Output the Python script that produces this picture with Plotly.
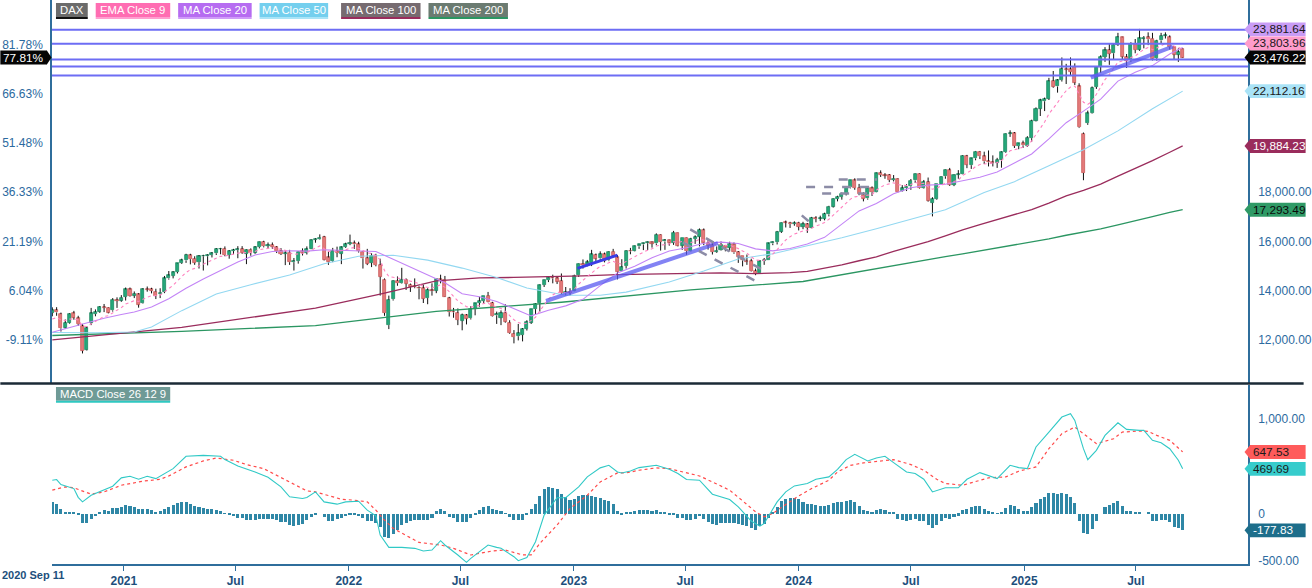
import pandas as pd
import plotly.graph_objects as go

# ---------------- DATA (weekly DAX, weeks starting Monday) ----------------
start_week = "2020-09-07"

O = [13100,13210,13050,12500,12700,13080,12880,12560,11600,12700,13050,13150,13320,13300,13200,13620,13600,
     13750,14050,13800,13850,13480,14060,14060,13960,13850,13950,14500,14600,14760,15130,15230,15440,15300,15160,15400,15400,15450,15520,15700,15700,15450,15610,15650,15690,15500,15670,15550,15770,15980,15820,15860,15770,15620,15500,15550,15160,15200,15600,15540,15700,16070,16100,16180,15350,15200,15600,15500,15780,
     15900,15930,15890,15580,15320,15130,15400,15050,14450,12600,13650,14400,14300,14450,14240,14170,14120,14100,13700,14000,14000,14460,14450,13700,13150,13100,12780,13000,12880,13250,13500,13580,13800,13500,13000,12900,13100,12700,12250,12150,12200,12450,12700,13250,13500,14230,14430,14500,14500,14400,13890,13940,
     13990,14620,15090,15050,15140,15450,15310,15480,15230,15590,15350,14800,15000,15630,15620,15800,15880,15930,15960,15920,16280,16000,16050,15950,16350,15830,16150,15600,16100,16200,16460,15950,15850,15580,15640,15830,15750,15880,15570,15400,15200,15200,14800,14700,15200,15250,15920,15970,16400,16760,16760,16720,
     16760,16600,16700,16560,16950,16930,16930,17100,17420,17730,17810,17950,18220,18480,18180,17900,17750,18160,18010,18780,18700,18700,18500,18550,18050,18160,18240,18480,18750,18170,18420,17570,17730,18340,18650,18900,18300,18700,18730,19470,19100,19380,19650,19460,19260,19230,19210,19330,19630,20390,20400,19880,19990,
     19900,20200,20910,21400,21700,21800,22520,22300,22560,23000,23000,23100,22300,18786,20809,21220,22280,23100,23500,23780,23650,24000,24300,23500,23360,24040,23800,24250,24300,24250,23450,24170,24370,24300,23900,23600,23820]
H = [13325,13330,13110,12830,13080,13180,12980,12650,12560,13300,13240,13370,13460,13320,13700,13730,13820,
     14130,14130,13970,13900,14100,14170,14120,14080,14100,14600,14800,14790,15120,15300,15500,15500,15400,15450,15460,15480,15570,15730,15740,15800,15650,15700,15810,15810,15690,15720,15810,15990,16030,15960,15960,15810,15730,15650,15660,15330,15600,15720,15800,16080,16130,16290,16230,15600,15740,15790,15800,15950,
     16280,16040,15990,15600,15700,15520,15500,15300,14500,13800,14430,14580,14930,14500,14290,14500,14180,14250,14100,14300,14480,14650,14600,13750,13300,13280,13070,13050,13370,13500,13750,13800,13950,13550,13150,13200,13450,12800,12400,12650,12480,12800,13250,13500,14250,14440,14560,14650,14580,14700,14150,14100,
     14650,15100,15270,15250,15660,15510,15600,15550,15600,15700,15450,15280,15650,15740,15830,15900,15950,16000,16000,16330,16300,16100,16070,16430,16360,16150,16160,16150,16250,16530,16530,16060,15950,15800,16000,15860,15990,15960,15610,15400,15470,15300,14900,15240,15330,15950,16000,16430,16770,16850,16800,16820,
     16800,16800,16750,17000,17030,17050,17170,17450,17750,17860,17990,18230,18500,18570,18340,18000,18200,18240,18800,18890,18780,18740,18700,18570,18290,18330,18540,18760,18770,18500,18600,17800,18330,18650,18920,18990,18720,18900,19500,19520,19400,19680,19680,19650,19700,19500,19400,19660,20400,20520,20450,20000,20100,
     20280,20950,21450,21800,21850,22650,22930,22600,23480,23220,23480,23240,22430,20430,21320,22300,23120,23570,23900,24030,24040,24480,24320,23620,24100,24230,24640,24350,24500,24480,24200,24480,24500,24380,23950,23850,23840]
L = [12960,12980,12340,12450,12660,12820,12570,11450,11570,12600,12960,13100,13130,13080,13150,13300,13550,
     13600,13760,13700,13310,13460,13960,13890,13660,13700,13900,14450,14500,14700,15090,15130,15070,15050,14900,14820,15030,15350,15450,15480,15400,15300,15480,15320,15500,15080,15420,15500,15720,15760,15730,15700,15530,15450,15040,15050,14820,15100,15430,15470,15690,15950,16080,15230,15050,15160,15360,15080,15740,
     15850,15700,15550,14900,15040,14960,14990,13800,12980,12440,13600,14200,14280,14030,13950,14100,13650,13500,13450,13800,13900,14300,13750,12950,12900,12600,12390,12630,12830,13000,13350,13500,13530,12950,12650,12600,12700,12250,11860,11980,11940,12380,12650,13050,13150,14150,14350,14300,14270,13850,13790,13800,
     13980,14560,14900,14990,15000,15200,15250,15150,15200,15380,14460,14800,14900,15480,15600,15700,15650,15650,15750,15850,15630,15660,15830,15860,15800,15660,15460,15580,15900,15800,15850,15670,15470,15540,15620,15600,15600,15500,15130,14990,15050,14780,14630,14690,15050,15250,15850,15880,16350,16570,16550,16640,
     16450,16500,16350,16540,16780,16830,16860,17020,17380,17630,17700,17870,18160,18100,17880,17630,17700,17850,18000,18620,18550,18410,18440,17990,18030,18050,18100,18380,18150,18150,17620,17020,17700,18300,18550,18260,18250,18550,18720,18980,18950,19300,19350,19150,19050,19050,18990,19000,19600,20250,19800,19750,19800,
     19850,20050,20880,21100,21300,21750,22250,22050,22500,22400,22760,22360,20610,18490,20740,21200,22200,22850,23300,23180,23400,23950,23400,23050,23300,23650,23750,23850,23980,23360,23350,24050,24250,23800,23400,23300,23460]
C = [13203,13116,12469,12689,13051,12909,12646,11556,12480,13077,13137,13335,13299,13114,13631,13587,13719,
     14049,13788,13874,13433,14057,14050,13993,13786,13920,14502,14621,14749,15107,15234,15460,15280,15136,15400,15417,15437,15520,15693,15693,15448,15607,15650,15688,15540,15669,15544,15761,15977,15808,15852,15781,15610,15490,15532,15156,15206,15587,15543,15688,16054,16094,16160,15257,15170,15623,15532,15756,15885,
     15948,15883,15603,15318,15100,15425,15042,14567,13095,13628,14413,14306,14446,14284,14163,14142,14098,13675,14027,13982,14462,14460,13762,13127,13118,12813,13015,12864,13254,13484,13574,13795,13544,12971,13050,13088,12741,12285,12114,12273,12438,12731,13243,13460,14224,14432,14541,14529,14371,13894,13940,13924,
     14610,15087,15033,15150,15476,15308,15482,15210,15578,15428,14768,14957,15629,15598,15808,15882,15922,15961,15914,16275,15984,16051,15950,16358,15830,16148,15603,16105,16177,16469,15952,15832,15574,15632,15840,15740,15894,15557,15386,15230,15187,14798,14687,15189,15234,15919,15967,16398,16759,16751,16706,16752,
     16594,16705,16555,16961,16918,16927,17117,17419,17735,17815,17937,18206,18492,18175,17930,17737,18161,18002,18773,18704,18694,18498,18557,18002,18164,18235,18476,18748,18172,18418,17661,17723,18322,18633,18907,18302,18700,18720,19474,19121,19374,19657,19464,19255,19216,19211,19323,19626,20385,20406,19885,19985,19906,
     20215,20903,21394,21732,21787,22514,22288,22551,23009,22987,22892,22462,20641,20374,21206,22242,23087,23499,23767,23630,23997,24304,23516,23350,24033,23787,24255,24290,24218,23426,24163,24359,24363,23902,23597,23698,23476]

ema9 = [12850,12903,12816,12791,12843,12856,12814,12562,12546,12652,12749,12866,12953,12985,13114,13209,13311,13459,13525,13595,
        13563,13662,13740,13791,13790,13816,13953,14087,14219,14397,14564,14743,14850,14907,15006,15088,15158,15230,15323,15397,
        15407,15447,15488,15528,15530,15558,15555,15596,15672,15699,15730,15740,15714,15669,15642,15545,15477,15499,15508,15544,
        15646,15736,15821,15708,15600,15605,15590,15623,15675,15730,15761,15729,15647,15538,15515,15420,15249,14818,14580,14547,
        14499,14488,14447,14390,14340,14292,14169,14141,14109,14180,14236,14141,13938,13774,13582,13469,13348,13329,13360,13403,
        13481,13494,13389,13321,13274,13167,12991,12816,12707,12653,12669,12784,12919,13180,13430,13652,13827,13936,13928,13930,
        13929,14065,14269,14422,14568,14750,14862,14986,15031,15140,15198,15112,15081,15191,15272,15379,15480,15568,15647,15700,
        15815,15849,15889,15901,15992,15960,15998,15919,15956,16000,16094,16066,16019,15930,15870,15864,15839,15850,15791,15710,
        15614,15529,15383,15244,15233,15233,15370,15489,15671,15889,16061,16190,16302,16360,16429,16454,16555,16628,16688,16774,
        16903,17069,17218,17362,17531,17723,17813,17836,17816,17885,17908,18081,18206,18304,18343,18386,18309,18280,18271,18312,
        18399,18354,18367,18226,18125,18164,18258,18388,18371,18437,18494,18690,18776,18896,19048,19131,19156,19168,19177,19206,
        19290,19509,19688,19727,19779,19804,19886,20089,20350,20626,20858,21189,21409,21637,21911,22126,22279,22316,21981,21660,
        21569,21704,21981,22285,22581,22791,23032,23286,23332,23336,23475,23537,23681,23803,23886,23794,23868,23966,24045,24016,
        23932,23885,23804]

ma20_idx = [0, 4, 8, 12, 16] + list(range(19, 260, 4)) + [262]
ma20_val = [12310,12500,12700,12880,13030,
            13136,13339,13673,14099,14479,14824,15167,15452,15595,15623,15607,15665,15644,15639,15594,15278,14959,14652,14320,13879,
            13753,13561,13275,12976,13205,13383,13648,14207,14722,14989,15336,15617,15743,15929,15973,15918,15700,15618,15714,15900,
            16168,16718,17243,17546,17938,18186,18290,18329,18456,18614,18820,19185,19556,20168,20829,21297,21784,22518,22881,23149,
            23620,23882]

ma50_idx = [0,10,19,23,30,38,46,55,63,71,79,87,95,103,110,119,127,133,143,151,159,167,175,183,191,199,207,216,223,231,239,247,255,262]
ma50_val = [12300,12290,12324,12527,13190,13865,14242,14638,15097,15402,15439,15244,14919,14534,14112,13816,13817,13943,14353,14799,
            15289,15503,15825,16154,16517,16899,17292,17989,18432,19074,19729,20496,21398,22112]

ma100_idx = [0,30,61,76,89,99,107,115,123,131,139,147,155,163,171,175,179,183,187,191,195,199,203,207,211,215,219,223,227,231,235,239,243,247,251,255,259,262]
ma100_val = [12000,12510,13290,13860,14400,14520,14539,14556,14600,14650,14671,14704,14728,14697,14732,14789,14912,15049,15217,15377,
             15601,15798,15995,16228,16473,16683,16885,17102,17298,17562,17851,18078,18335,18653,18953,19286,19628,19884]

ma200_idx = [0,30,61,89,118,148,174,199,203,207,211,215,219,223,227,231,235,239,243,247,251,255,259,262]
ma200_val = [12180,12350,12580,13160,13530,14030,14374,15159,15266,15384,15499,15619,15727,15851,15972,16106,16254,16375,16513,16679,
             16835,17007,17181,17293]

# MACD (Close 26 12 9)
macd_idx = [0,1,2,3,5,6,7,9,12,14,16,18,20,22,24,26,28,31,35,39,40,43,47,50,53,55,58,59,61,63,66,68,71,73,75,76,78,81,84,86,88,90,91,94,96,97,
            101,103,104,107,108,110,112,114,117,119,122,124,127,129,131,132,134,136,140,143,145,147,150,153,157,159,162,164,165,168,170,172,175,177,
            180,182,184,186,187,189,191,193,195,198,200,202,204,207,210,212,215,217,219,222,224,226,228,231,234,236,237,239,240,242,244,247,249,252,
            253,255,257,259,261,262]
macd_val = [350,357,305,292,262,170,122,192,245,287,375,392,360,392,367,420,472,602,612,602,567,500,437,381,280,175,157,168,227,122,98,122,129,35,-25,-227,
            -357,-357,-367,-395,-385,-287,-332,-437,-515,-472,-332,-357,-367,-455,-497,-465,-297,-17,165,165,280,385,480,507,437,427,448,483,507,465,420,
            357,350,203,147,70,-80,-133,-105,122,227,290,315,360,385,465,567,623,602,553,584,602,535,437,420,360,227,270,270,360,430,402,367,507,483,
            472,700,857,1015,1050,980,682,567,665,822,955,885,875,875,770,745,682,560,470]
sig_idx = [0,3,5,9,12,16,21,25,27,31,35,38,42,45,49,52,56,59,61,64,67,70,73,75,77,79,82,85,90,93,97,102,105,109,111,113,117,120,124,127,131,133,
           136,140,143,147,150,153,157,160,163,165,167,170,173,176,180,182,185,188,192,195,199,202,205,207,211,214,217,221,224,228,231,234,237,240,
           242,246,248,252,254,256,259,262]
sig_val = [245,280,270,203,227,297,340,360,395,490,553,584,560,515,472,402,315,238,227,192,150,140,122,35,-70,-157,-234,-305,-332,-367,-437,-395,
           -385,-437,-437,-315,-122,52,192,332,427,427,455,480,472,430,395,332,245,133,17,-35,0,94,185,262,350,437,507,532,550,567,515,455,360,315,
           297,332,375,385,445,490,682,840,910,805,735,787,857,868,865,822,770,648]
hist = [122,98,52,17,17,7,-10,-105,-105,-60,-25,17,38,28,60,60,73,87,80,66,45,49,49,35,17,28,45,66,87,108,122,122,101,80,73,63,52,45,35,28,
        3,-17,-31,-42,-49,-63,-73,-63,-56,-56,-56,-56,-63,-87,-94,-122,-136,-122,-112,-73,-38,-10,0,-35,-80,-77,-60,-45,-25,-10,-17,-31,-45,
        -80,-84,-98,-140,-252,-262,-220,-175,-122,-98,-80,-73,-70,-73,-63,-42,24,45,24,-35,-52,-94,-94,-94,-45,-17,35,70,80,45,35,24,-3,-38,
        -70,-70,-70,-17,52,101,185,262,280,273,262,210,175,140,157,185,192,192,185,175,164,140,130,105,
        28,-10,17,17,28,38,38,38,28,38,17,7,-17,-7,-42,-42,-73,-73,-60,-31,-60,-87,-108,-119,-105,-105,-98,-105,-115,-126,-136,-157,-178,-136,
        -115,-45,17,70,133,157,164,164,150,122,101,101,91,80,80,91,112,122,122,133,143,122,80,38,28,7,42,49,38,17,7,-56,-73,-84,-73,-56,-84,
        -84,-126,-157,-126,-84,-45,-56,-35,-21,42,52,66,80,80,49,28,10,-3,10,60,91,77,52,31,31,70,112,154,178,217,217,206,217,206,175,112,
        -77,-200,-220,-168,-77,0,70,91,112,133,80,28,28,7,17,0,7,-77,-77,-66,-66,-94,-140,-157,-178]

# horizontal levels, drawn trend / channel lines  (date, price) pairs
levels = [24608, 24040, 23392, 23108, 22743]
trend_thick = [(("2022-11-17", 13581), ("2023-08-23", 15932)), (("2025-04-19", 22662), ("2025-08-30", 23919))]
trend_short = [(("2023-01-07", 14907), ("2023-03-13", 15446))]
dashed = [(("2023-07-09", 16490), ("2023-11-11", 14740)), (("2023-06-27", 15960), ("2023-10-21", 14420)),
          (("2024-01-13", 18215), ("2024-05-02", 18215)), (("2024-03-06", 18515), ("2024-05-07", 18515)),
          (("2024-02-08", 17947), ("2024-05-02", 17947)), (("2024-01-06", 17060), ("2024-01-24", 16680))]

pct_base = 13202.84
last_vals = {"ma20": 23881.64, "ema9": 23803.96, "close": 23476.22, "ma50": 22112.16, "ma100": 19884.23, "ma200": 17293.49}
macd_last = {"signal": 647.53, "macd": 469.69, "hist": -177.83}

assert len(O) == len(H) == len(L) == len(C) == len(ema9) == len(hist) == 263
assert len(ma20_idx) == len(ma20_val) and len(ma50_idx) == len(ma50_val)
assert len(ma100_idx) == len(ma100_val) and len(ma200_idx) == len(ma200_val)
assert len(macd_idx) == len(macd_val) and len(sig_idx) == len(sig_val)

# ---------------- GEOMETRY / STYLE ----------------
W, Hh = 1312, 588
ML, MR, MT, MB = 52, 56, 0, 21
PW = W - ML - MR           # 1204
PH = Hh - MT - MB          # 567
MAIN_BOTTOM_PX = 385
MACD_TOP_PX = 387
Y_MAIN = [10250, 25815]
Y_MACD = [-532, 1353]
X_RANGE = ["2020-09-06 12:00", "2025-12-30"]
FONT = "Arial, Liberation Sans, sans-serif"
AXC = "#2f6e9c"
TICKC = "#2c6aa0"


def xp(px):
    return (px - ML) / PW


def yp(py):
    return (PH - py) / PH


def main_py(v):
    return (Y_MAIN[1] - v) / (Y_MAIN[1] - Y_MAIN[0]) * MAIN_BOTTOM_PX


def macd_py(v):
    return MACD_TOP_PX + (Y_MACD[1] - v) / (Y_MACD[1] - Y_MACD[0]) * (PH - MACD_TOP_PX)


dates = pd.date_range(start_week, periods=len(C), freq="7D")
n = len(C)
up = [True] + [C[i] >= C[i - 1] for i in range(1, n)]
GF, GL = "#25a87a", "#137f57"
RF, RL = "#e47a7a", "#c44d4d"

fig = go.Figure()

# wicks (split around bodies)
wx, wy = [], []
for d, o, hi, lo, c in zip(dates, O, H, L, C):
    top, bot = max(o, c), min(o, c)
    if hi > top:
        wx += [d, d, None]; wy += [top, hi, None]
    if lo < bot:
        wx += [d, d, None]; wy += [lo, bot, None]
fig.add_trace(go.Scatter(x=wx, y=wy, mode="lines", line=dict(color="#111111", width=1),
                         hoverinfo="skip", showlegend=False, xaxis="x", yaxis="y"))

# bodies
base, hgt = [], []
for o, c in zip(O, C):
    if abs(c - o) < 35:
        base.append((o + c) / 2 - 17.5); hgt.append(35)
    else:
        base.append(min(o, c)); hgt.append(abs(c - o))
fig.add_trace(go.Bar(x=dates, y=hgt, base=base, width=5 * 86400000,
                     marker=dict(color=[GF if u else RF for u in up],
                                 line=dict(color=[GL if u else RL for u in up], width=0.7)),
                     hoverinfo="skip", showlegend=False, xaxis="x", yaxis="y"))

# moving averages
def ma_line(idx, vals, color, width=1.0, dash=None):
    fig.add_trace(go.Scatter(x=[dates[i] for i in idx], y=vals, mode="lines",
                             line=dict(color=color, width=width, dash=dash),
                             hoverinfo="skip", showlegend=False, xaxis="x", yaxis="y"))

ma_line(ma200_idx, ma200_val, "#2b9662", 1.3)
ma_line(ma100_idx, ma100_val, "#9a2c5c", 1.3)
ma_line(ma50_idx, ma50_val, "#93d8f1", 1.1)
ma_line(ma20_idx, ma20_val, "#c384f6", 1.1)
ma_line(list(range(n)), ema9, "#ff80bf", 1.1, "dot")

# invisible trace for the left percentage axis
fig.add_trace(go.Scatter(x=[dates[0]], y=[C[0]], mode="markers", marker=dict(opacity=0),
                         hoverinfo="skip", showlegend=False, xaxis="x", yaxis="y3"))

# MACD panel
fig.add_trace(go.Bar(x=dates, y=hist, width=5 * 86400000, marker=dict(color="#2f87a6", line=dict(width=0)),
                     hoverinfo="skip", showlegend=False, xaxis="x2", yaxis="y2"))
fig.add_trace(go.Scatter(x=[dates[i] for i in sig_idx], y=sig_val, mode="lines",
                         line=dict(color="#ff4a4a", width=1.2, dash="dot"),
                         hoverinfo="skip", showlegend=False, xaxis="x2", yaxis="y2"))
fig.add_trace(go.Scatter(x=[dates[i] for i in macd_idx], y=macd_val, mode="lines",
                         line=dict(color="#30c9c6", width=1.1),
                         hoverinfo="skip", showlegend=False, xaxis="x2", yaxis="y2"))

shapes, annos = [], []

# levels
for lv in levels:
    shapes.append(dict(type="line", xref="paper", yref="y", x0=0, x1=1, y0=lv, y1=lv,
                       line=dict(color="#6d6df4", width=2)))
for (a, b) in trend_thick:
    shapes.append(dict(type="line", xref="x", yref="y", x0=a[0], y0=a[1], x1=b[0], y1=b[1],
                       line=dict(color="rgba(90,90,240,0.75)", width=4)))
for (a, b) in trend_short:
    shapes.append(dict(type="line", xref="x", yref="y", x0=a[0], y0=a[1], x1=b[0], y1=b[1],
                       line=dict(color="#3c3ce6", width=3)))
for (a, b) in dashed:
    shapes.append(dict(type="line", xref="x", yref="y", x0=a[0], y0=a[1], x1=b[0], y1=b[1],
                       line=dict(color="#8c8ca6", width=2.5, dash="dash")))

# separator between panels
shapes.append(dict(type="line", xref="paper", yref="paper", x0=xp(0), x1=xp(W), y0=yp(385.5), y1=yp(385.5),
                   line=dict(color="#1b2a36", width=2.5)))

LEG_FS = 11.3
# legend boxes
legend = [("DAX", 56, 88, "#6b6b6b", "#111111"),
          ("EMA Close 9", 96, 171, "#ff6db2", "#ff9fd0"),
          ("MA Close 20", 179, 253, "#b66cf1", "#cf9cf8"),
          ("MA Close 50", 261, 330, "#74cfee", "#a9e4f7"),
          ("MA Close 100", 343, 423, "#766b70", "#9a2c5c"),
          ("MA Close 200", 431, 511, "#6b7b71", "#2b9662")]
for txt, x0, x1, bg, ul in legend:
    shapes.append(dict(type="rect", xref="paper", yref="paper", x0=xp(x0), x1=xp(x1), y0=yp(17), y1=yp(3),
                       fillcolor=bg, line=dict(width=0)))
    shapes.append(dict(type="rect", xref="paper", yref="paper", x0=xp(x0), x1=xp(x1), y0=yp(19), y1=yp(17),
                       fillcolor=ul, line=dict(width=0)))
    annos.append(dict(xref="paper", yref="paper", x=xp((x0 + x1) / 2), y=yp(10), text=txt, showarrow=False,
                      xanchor="center", yanchor="middle", font=dict(family=FONT, size=LEG_FS, color="white")))

# MACD legend
shapes.append(dict(type="rect", xref="paper", yref="paper", x0=xp(56), x1=xp(171), y0=yp(403), y1=yp(389),
                   fillcolor="#6f9a96", line=dict(width=0)))
shapes.append(dict(type="rect", xref="paper", yref="paper", x0=xp(56), x1=xp(171), y0=yp(405), y1=yp(403),
                   fillcolor="#2ec8c1", line=dict(width=0)))
annos.append(dict(xref="paper", yref="paper", x=xp(113.5), y=yp(396), text="MACD Close 26 12 9", showarrow=False,
                  xanchor="center", yanchor="middle", font=dict(family=FONT, size=LEG_FS, color="white")))


def tag_right(cy, text, bg, fg):
    shapes.append(dict(type="rect", xref="paper", yref="paper", x0=xp(1258), x1=xp(1314), y0=yp(cy + 7), y1=yp(cy - 7),
                       fillcolor=bg, line=dict(width=0)))
    shapes.append(dict(type="path", xref="paper", yref="paper",
                       path=f"M {xp(1252.5)},{yp(cy)} L {xp(1258.2)},{yp(cy - 7)} L {xp(1258.2)},{yp(cy + 7)} Z",
                       fillcolor=bg, line=dict(width=0)))
    annos.append(dict(xref="paper", yref="paper", x=xp(1259), y=yp(cy), text=text, showarrow=False,
                      xanchor="left", yanchor="middle", font=dict(family=FONT, size=11.8, color=fg)))


fmt = lambda v: f"{v:,.2f}"
tag_right(29.5, fmt(last_vals["ma20"]), "#c99cf6", "#1a1a1a")
tag_right(43.7, fmt(last_vals["ema9"]), "#ff9ccb", "#1a1a1a")
tag_right(main_py(last_vals["close"]), fmt(last_vals["close"]), "#050505", "white")
tag_right(main_py(last_vals["ma50"]), fmt(last_vals["ma50"]), "#a9e3f7", "#1a1a1a")
tag_right(main_py(last_vals["ma100"]), fmt(last_vals["ma100"]), "#9a2c5c", "white")
tag_right(main_py(last_vals["ma200"]), fmt(last_vals["ma200"]), "#2f9a66", "#0a0a0a")
tag_right(macd_py(macd_last["signal"]), fmt(macd_last["signal"]), "#ff5b5b", "#1a1a1a")
tag_right(macd_py(macd_last["macd"]), fmt(macd_last["macd"]), "#36cccc", "#1a1a1a")
tag_right(macd_py(macd_last["hist"]), fmt(macd_last["hist"]), "#1d6e8b", "white")

# left percentage tag for last close
cy = main_py(last_vals["close"])
shapes.append(dict(type="rect", xref="paper", yref="paper", x0=xp(0), x1=xp(47), y0=yp(cy + 7), y1=yp(cy - 7),
                   fillcolor="#050505", line=dict(width=0)))
shapes.append(dict(type="path", xref="paper", yref="paper",
                   path=f"M {xp(46.8)},{yp(cy - 7)} L {xp(51.5)},{yp(cy)} L {xp(46.8)},{yp(cy + 7)} Z",
                   fillcolor="#050505", line=dict(width=0)))
annos.append(dict(xref="paper", yref="paper", x=xp(23.5), y=yp(cy), text=f"{(last_vals['close'] / pct_base - 1) * 100:.2f}%",
                  showarrow=False, xanchor="center", yanchor="middle", font=dict(family=FONT, size=11.8, color="white")))

# first date label
annos.append(dict(xref="paper", yref="paper", x=xp(0), y=yp(578.5), text="<b>2020 Sep 11</b>", showarrow=False,
                  xanchor="left", yanchor="middle", font=dict(family=FONT, size=11, color="#1d4f7c")))

price_ticks = [12000, 14000, 16000, 18000]
pct_ticks = [12000, 14000, 16000, 18000, 20000, 22000, 24000]
xt_vals, xt_text = [], []
for yr in range(2021, 2026):
    xt_vals += [f"{yr}-01-01", f"{yr}-07-01"]
    xt_text += [str(yr), "Jul"]

fig.update_layout(
    width=W, height=Hh, autosize=False,
    margin=dict(l=ML, r=MR, t=MT, b=MB, pad=0),
    paper_bgcolor="white", plot_bgcolor="white",
    showlegend=False, bargap=0, barmode="overlay",
    font=dict(family=FONT, size=12, color=TICKC),
    xaxis=dict(domain=[0, 1], range=X_RANGE, type="date", anchor="y", showticklabels=False, showgrid=False,
               zeroline=False, showline=False, ticks=""),
    xaxis2=dict(domain=[0, 1], range=X_RANGE, type="date", anchor="y2", showgrid=False, zeroline=False,
                showline=True, linecolor=AXC, linewidth=1.5, ticks="outside", ticklen=5, tickcolor=AXC,
                tickvals=xt_vals, ticktext=xt_text,
                tickfont=dict(family=FONT, size=12, color="#1d4f7c", weight="bold")),
    yaxis=dict(domain=[yp(MAIN_BOTTOM_PX), 1], range=Y_MAIN, side="right", anchor="x", showgrid=False, zeroline=False,
               showline=True, linecolor=AXC, linewidth=1.5, ticks="", tickvals=price_ticks,
               ticktext=[fmt(v) for v in price_ticks], ticklabelstandoff=6,
               tickfont=dict(family=FONT, size=12, color=TICKC)),
    yaxis3=dict(range=Y_MAIN, overlaying="y", side="left", anchor="x", showgrid=False, zeroline=False,
                showline=True, linecolor=AXC, linewidth=1.5, ticks="", tickvals=pct_ticks,
                ticktext=[f"{(v / pct_base - 1) * 100:.2f}%" for v in pct_ticks], ticklabelstandoff=5,
                tickfont=dict(family=FONT, size=12, color=TICKC)),
    yaxis2=dict(domain=[0, yp(MACD_TOP_PX)], range=Y_MACD, side="right", anchor="x2", showgrid=False, zeroline=False,
                showline=True, linecolor=AXC, linewidth=1.5, ticks="", tickvals=[-500, 0, 1000],
                ticktext=["-500.00", "0", "1,000.00"], ticklabelstandoff=6,
                tickfont=dict(family=FONT, size=12, color=TICKC)),
    shapes=shapes, annotations=annos,
)

fig.write_html("out.html")
